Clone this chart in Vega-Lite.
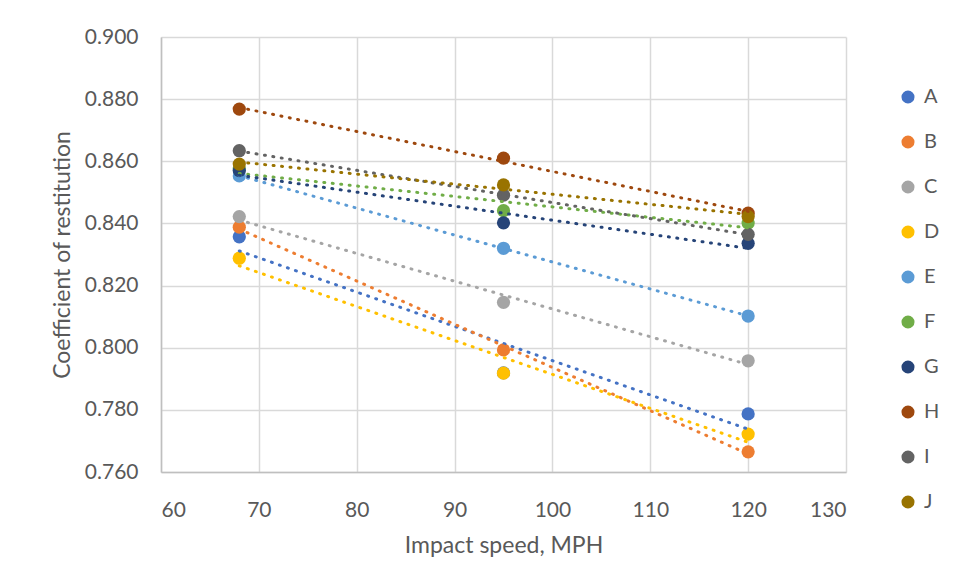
{
  "$schema": "https://vega.github.io/schema/vega-lite/v6.json",
  "width": 685,
  "height": 435,
  "autosize": {"type": "none"},
  "padding": {"left": 161, "top": 37, "right": 108, "bottom": 115},
  "background": "white",
  "config": {
    "view": {"stroke": null},
    "font": "Lato",
    "axis": {
      "labelColor": "#595959",
      "titleColor": "#595959",
      "labelFont": "Lato",
      "titleFont": "Lato",
      "labelFontSize": 21,
      "titleFontSize": 23,
      "titleFontWeight": "normal",
      "gridColor": "#D9D9D9",
      "gridWidth": 1.5,
      "domainColor": "#BFBFBF",
      "domainWidth": 1.5,
      "ticks": false
    },
    "legend": {"labelFont": "Lato", "labelFontSize": 20, "labelColor": "#595959"}
  },
  "data": {
    "values": [
      {"series": "A", "speed": 68, "cor": 0.8357},
      {"series": "A", "speed": 95, "cor": 0.7919},
      {"series": "A", "speed": 120, "cor": 0.7787},
      {"series": "B", "speed": 68, "cor": 0.8388},
      {"series": "B", "speed": 95, "cor": 0.7993},
      {"series": "B", "speed": 120, "cor": 0.7665},
      {"series": "C", "speed": 68, "cor": 0.8422},
      {"series": "C", "speed": 95, "cor": 0.8146},
      {"series": "C", "speed": 120, "cor": 0.7958},
      {"series": "D", "speed": 68, "cor": 0.8288},
      {"series": "D", "speed": 95, "cor": 0.7918},
      {"series": "D", "speed": 120, "cor": 0.7722},
      {"series": "E", "speed": 68, "cor": 0.8553},
      {"series": "E", "speed": 95, "cor": 0.832},
      {"series": "E", "speed": 120, "cor": 0.8102},
      {"series": "F", "speed": 68, "cor": 0.8575},
      {"series": "F", "speed": 95, "cor": 0.8441},
      {"series": "F", "speed": 120, "cor": 0.8401},
      {"series": "G", "speed": 68, "cor": 0.857},
      {"series": "G", "speed": 95, "cor": 0.8402},
      {"series": "G", "speed": 120, "cor": 0.8336},
      {"series": "H", "speed": 68, "cor": 0.8768},
      {"series": "H", "speed": 95, "cor": 0.861},
      {"series": "H", "speed": 120, "cor": 0.8433},
      {"series": "I", "speed": 68, "cor": 0.8634},
      {"series": "I", "speed": 95, "cor": 0.8491},
      {"series": "I", "speed": 120, "cor": 0.8365},
      {"series": "J", "speed": 68, "cor": 0.8591},
      {"series": "J", "speed": 95, "cor": 0.8524},
      {"series": "J", "speed": 120, "cor": 0.8422}
    ]
  },
  "layer": [
    {
      "mark": {"type": "circle", "size": 175, "opacity": 1},
      "encoding": {
        "x": {
          "field": "speed", "type": "quantitative",
          "scale": {"domain": [60, 130], "nice": false, "zero": false},
          "axis": {"values": [60, 70, 80, 90, 100, 110, 120, 130], "title": "Impact speed, MPH", "labelPadding": 27, "titlePadding": 14}
        },
        "y": {
          "field": "cor", "type": "quantitative",
          "scale": {"domain": [0.76, 0.9], "nice": false, "zero": false},
          "axis": {"values": [0.76, 0.78, 0.8, 0.82, 0.84, 0.86, 0.88, 0.9], "format": ".3f", "title": "Coefficient of restitution", "labelPadding": 23, "titlePadding": 10}
        },
        "color": {
          "field": "series", "type": "nominal",
          "scale": {
            "domain": ["A", "B", "C", "D", "E", "F", "G", "H", "I", "J"],
            "range": ["#4472C4", "#ED7D31", "#A5A5A5", "#FFC000", "#5B9BD5", "#70AD47", "#264478", "#9E480E", "#636363", "#997300"]
          },
          "legend": {
            "title": null,
            "orient": "none",
            "legendX": 737,
            "legendY": 50,
            "symbolType": "circle",
            "symbolSize": 170,
            "rowPadding": 25,
            "labelOffset": 6
          }
        }
      }
    },
    {
      "transform": [{"regression": "cor", "on": "speed", "groupby": ["series"]}],
      "mark": {"type": "line", "strokeDash": [1, 7.5], "strokeCap": "round", "strokeWidth": 3},
      "encoding": {
        "x": {"field": "speed", "type": "quantitative"},
        "y": {"field": "cor", "type": "quantitative"},
        "color": {"field": "series", "type": "nominal", "legend": null}
      }
    }
  ],
  "resolve": {"legend": {"color": "independent"}}
}
